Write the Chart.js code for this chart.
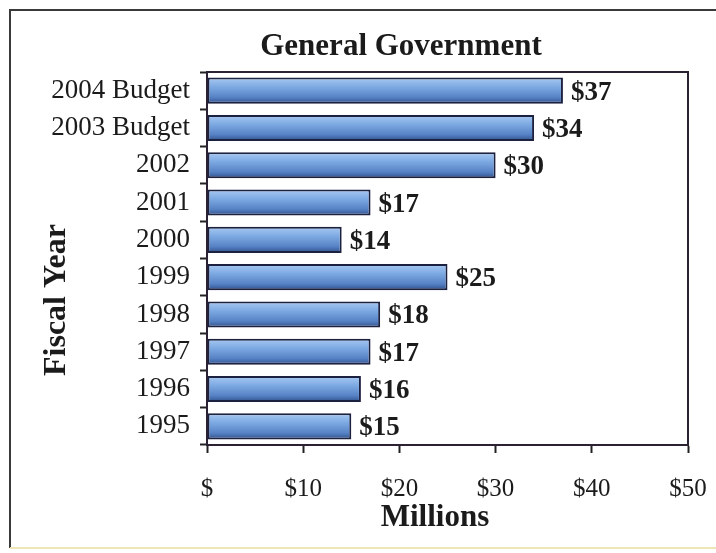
<!DOCTYPE html>
<html>
<head>
<meta charset="utf-8">
<script src="https://cdn.jsdelivr.net/npm/chart.js@4/dist/chart.umd.min.js"></script>
<style>
  html, body { margin: 0; padding: 0; background: #ffffff; }
  #wrap { width: 716px; height: 553px; }
</style>
</head>
<body>
<div id="wrap"><canvas id="c" width="716" height="553"></canvas></div>
<script>
// Fiscal years, listed top to bottom
const fiscalYears = ["2004 Budget", "2003 Budget", "2002", "2001", "2000", "1999", "1998", "1997", "1996", "1995"];
// General Government spending, millions of dollars
const spending = [37, 34, 30, 17, 14, 25, 18, 17, 16, 15];
// Horizontal axis ticks
const xTicks = [0, 10, 20, 30, 40, 50];
const xTickLabels = ["$", "$10", "$20", "$30", "$40", "$50"];

const SERIF = "'Liberation Serif', 'Times New Roman', serif";
const INK = "#1b1b1b";
const BAR_SHARE = 0.7;

// Vertical gradient per bar: light blue on top, deeper blue below
function barFill(ctx) {
  const chart = ctx.chart;
  const area = chart.chartArea;
  if (!area) return "#6f9edb";
  const yScale = chart.scales.y;
  const cy = yScale.getPixelForValue(ctx.dataIndex);
  const half = (area.bottom - area.top) / fiscalYears.length * BAR_SHARE / 2;
  const g = chart.ctx.createLinearGradient(0, cy - half, 0, cy + half);
  g.addColorStop(0, "#a9caf2");
  g.addColorStop(0.35, "#7eaae3");
  g.addColorStop(0.75, "#5783c6");
  g.addColorStop(1, "#2f4f8a");
  return g;
}

// Outer frame, plot box, titles and value labels
const decorations = {
  id: "decorations",
  beforeDraw(chart) {
    const c = chart.ctx;
    c.save();
    c.lineWidth = 2;
    c.strokeStyle = "#3a3a3a";
    c.beginPath();
    c.moveTo(10, 548);
    c.lineTo(10, 10);
    c.lineTo(716, 10);
    c.stroke();
    c.strokeStyle = "#efe6b8";
    c.beginPath();
    c.moveTo(10, 548);
    c.lineTo(716, 548);
    c.stroke();
    c.restore();
  },
  afterDatasetsDraw(chart) {
    const c = chart.ctx;
    const a = chart.chartArea;
    c.save();
    c.lineWidth = 2;
    c.strokeStyle = "#2a2232";
    c.strokeRect(a.left, a.top, a.right - a.left, a.bottom - a.top);

    c.fillStyle = INK;
    c.textBaseline = "middle";
    c.textAlign = "center";
    c.font = "bold 31px " + SERIF;
    c.fillText("General Government", 401, 47);
    c.fillText("Millions", 435, 518);

    c.save();
    c.translate(57, 300);
    c.rotate(-Math.PI / 2);
    c.font = "bold 32px " + SERIF;
    c.fillText("Fiscal Year", 0, 0);
    c.restore();

    c.font = "bold 27px " + SERIF;
    c.textAlign = "left";
    const meta = chart.getDatasetMeta(0);
    meta.data.forEach((bar, i) => {
      c.fillText("$" + spending[i], bar.x + 8, bar.y + 2);
    });
    c.restore();
  }
};

new Chart(document.getElementById("c"), {
  type: "bar",
  data: {
    labels: fiscalYears,
    datasets: [{
      data: spending,
      backgroundColor: barFill,
      borderColor: "#1d2140",
      borderWidth: 2,
      borderSkipped: false,
      categoryPercentage: 1,
      barPercentage: BAR_SHARE
    }]
  },
  options: {
    indexAxis: "y",
    responsive: false,
    animation: false,
    devicePixelRatio: 1,
    layout: { padding: { top: 72, right: 28, left: 0, bottom: 0 } },
    plugins: {
      legend: { display: false },
      tooltip: { enabled: false },
      title: { display: false }
    },
    scales: {
      x: {
        type: "linear",
        min: 0,
        max: 50,
        afterBuildTicks(scale) { scale.ticks = xTicks.map(v => ({ value: v })); },
        afterFit(scale) {
          scale.height = 108;
          scale.paddingLeft = 0;
          scale.paddingRight = 0;
        },
        ticks: {
          color: INK,
          font: { family: SERIF, size: 25 },
          padding: 21,
          maxRotation: 0,
          callback: (v) => xTickLabels[xTicks.indexOf(v)]
        },
        grid: {
          drawOnChartArea: false,
          drawTicks: true,
          tickLength: 8,
          tickColor: "#222",
          tickWidth: 2
        },
        border: { display: true, color: "#222", width: 2 },
        title: { display: false }
      },
      y: {
        afterFit(scale) {
          scale.width = 207;
          scale.paddingTop = 0;
          scale.paddingBottom = 0;
        },
        ticks: {
          color: INK,
          font: { family: SERIF, size: 27 },
          padding: 10
        },
        grid: {
          offset: true,
          drawOnChartArea: false,
          drawTicks: true,
          tickLength: 7,
          tickColor: "#222",
          tickWidth: 2
        },
        border: { display: true, color: "#222", width: 2 },
        title: { display: false }
      }
    }
  },
  plugins: [decorations]
});
</script>
</body>
</html>
